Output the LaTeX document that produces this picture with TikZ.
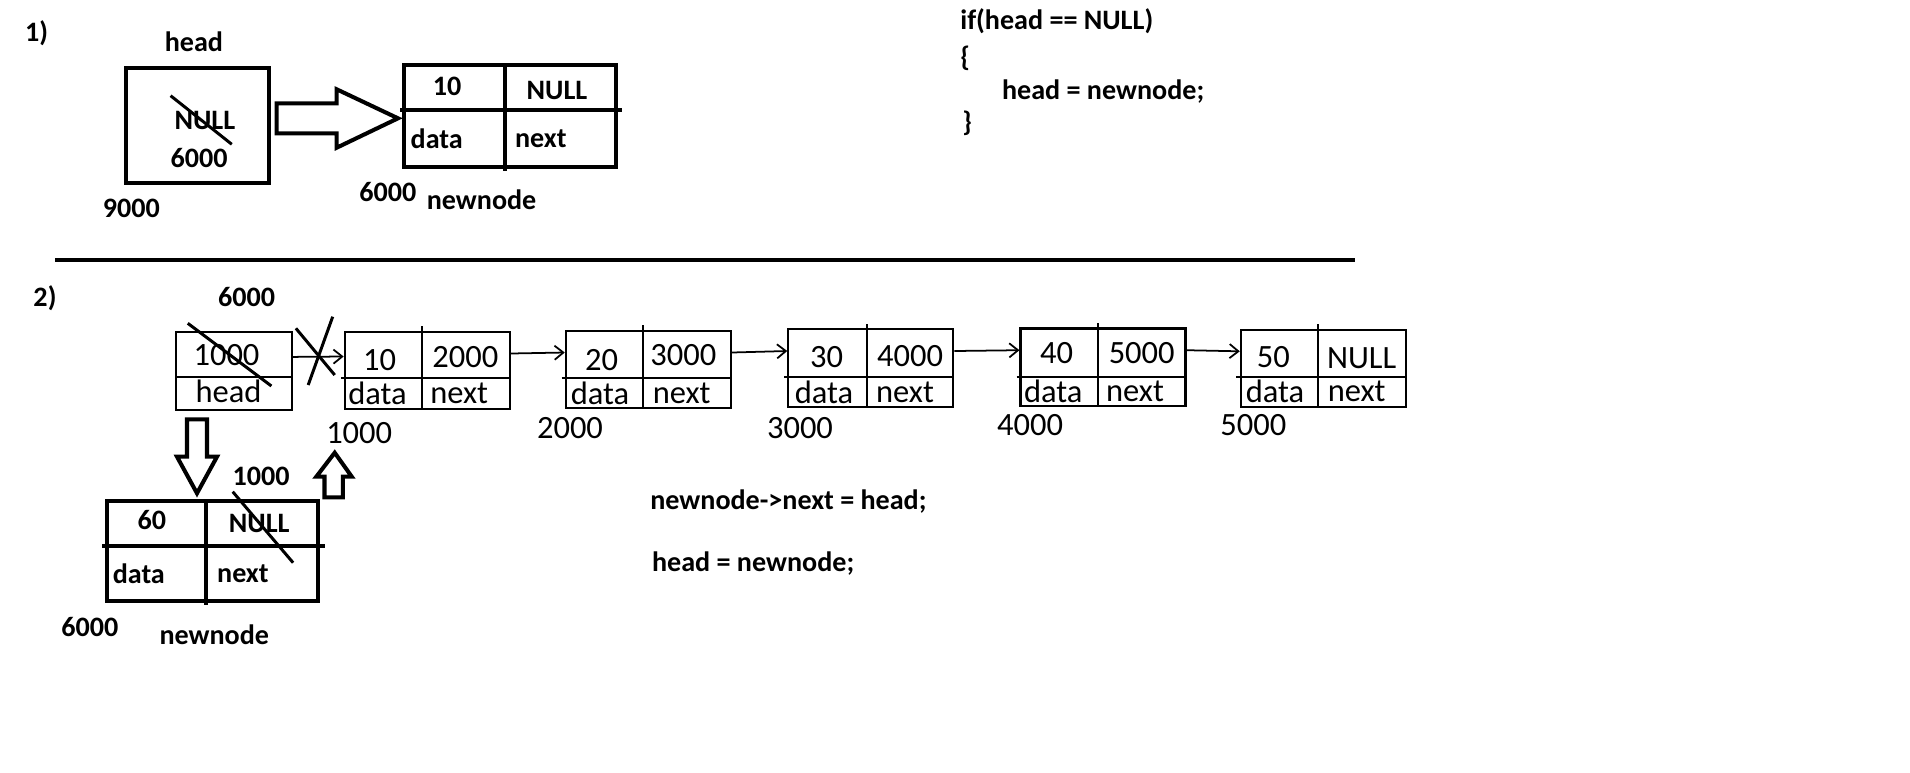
\documentclass[tikz,border=0pt]{standalone}
\usepackage{fontspec}
\setmainfont{Carlito}
\usetikzlibrary{arrows.meta}

\tikzset{
    lbl/.style={inner sep=0pt, font=\fontsize{16}{19}\selectfont\bfseries},
    lst/.style={inner sep=0pt, font=\fontsize{18.5}{21}\selectfont},
    fat/.style={line width=2.3pt},
    cross/.style={line width=1.7pt},
    thinline/.style={line width=1.2pt},
    bigcell/.style={draw, fat, inner sep=0pt},
    cell/.style={draw, thinline, inner sep=0pt, minimum width=3.3cm, minimum height=1.55cm},
    link/.style={line width=1pt, -{Straight Barb[length=5pt,width=8pt]}},
}

\begin{document}
\begin{tikzpicture}[x=0.02cm, y=-0.02cm]
                \useasboundingbox (0,0) rectangle (1910,772);

                \node[lbl] (One) at (36.7,33.3) {1)};
                \node[lbl] (HeadName) at (193.9,41.7) {head};
                \node[bigcell, minimum width=2.874cm, minimum height=2.3cm] (HeadBox) at (197.5,125.8) {};
                \node[lbl] (HeadNull) at (204.9,120) {NULL};
                \node[lbl] (HeadVal) at (199.2,158.3) {6000};
                \node[lbl] (HeadAddr) at (131.4,208.3) {9000};
                \draw[cross] (170.6,95.7) -- (231.8,144.3);

                \draw[fat] (276.7,103.3) -- (336.7,103.3) -- (336.7,89.3) -- (398,118.3)
                    -- (336.7,147.7) -- (336.7,133.3) -- (276.7,133.3) -- cycle;

                \node[bigcell, minimum width=4.23cm, minimum height=2.034cm] (NewBox) at (509.8,115.8) {};
                \draw[fat] (400,110) -- (622.4,110);
                \draw[fat] (505.3,65) -- (505.3,170.7);
                \node[lbl] (NewData) at (447,86.7) {10};
                \node[lbl] (NewNext) at (557,90) {NULL};
                \node[lbl] (NewD) at (436.7,138.3) {data};
                \node[lbl] (NewN) at (540.8,138.3) {next};
                \node[lbl] (NewAddr) at (387.8,191.7) {6000};
                \node[lbl] (NewName) at (481.6,200) {newnode};

                \node[lbl, anchor=west] (Code1) at (960,21) {if(head == NULL)};
                \node[lbl, anchor=west] (Code2) at (960,58) {\{};
                \node[lbl, anchor=west] (Code3) at (1001.7,91.7) {head = newnode;};
                \node[lbl, anchor=west] (Code4) at (962,123) {\}};

                \draw[fat] (55,260) -- (1355,260);

                \node[lbl] (Two) at (45,298.3) {2)};
                \node[lbl] (HeadVal2) at (246.7,296.7) {6000};
                \node[cell, minimum width=2.326cm, minimum height=1.566cm] (HeadBox2) at (233.7,370.9) {};
                \draw[thinline] (175.5,376.7) -- (291.8,376.7);
                \node[lst] (HeadPtr2) at (226.5,355) {1000};
                \node[lst] (HeadName2) at (228.6,391.7) {head};
                \draw[cross] (187.8,323.3) -- (271.4,386);

                \node[cell] (L1) at (427.2,370.5) {};
                \node[cell] (L2) at (648.3,369.5) {};
                \node[cell] (L3) at (870.8,368) {};
                \node[cell] (L4) at (1103,367.2) {};
                \node[cell] (L5) at (1323.3,368.3) {};

                \draw[thinline] (341,378.3) -- (509.4,378.3);
                \draw[thinline] (422.4,326) -- (422.4,409.3);
                \draw[thinline] (561.7,378.3) -- (731.7,378.3);
                \draw[thinline] (643.3,325) -- (643.3,408.3);
                \draw[thinline] (784,376.7) -- (953.3,376.7);
                \draw[thinline] (866.7,324) -- (866.7,406.7);
                \draw[thinline] (1016.7,376.7) -- (1186,376.7);
                \draw[thinline] (1098.3,323) -- (1098.3,406);
                \draw[thinline] (1236,376.7) -- (1406.7,376.7);
                \draw[thinline] (1318.3,324) -- (1318.3,407.3);

                \node[lst] (V1) at (379.6,360) {10};
                \node[lst] (P1) at (465.3,356.7) {2000};
                \node[lst] (D1) at (377.6,393.3) {data};
                \node[lst] (N1) at (459.2,393.3) {next};
                \node[lst] (A1) at (359.2,433.3) {1000};

                \node[lst] (V2) at (601.7,360) {20};
                \node[lst] (P2) at (683.3,355) {3000};
                \node[lst] (D2) at (600,393.3) {data};
                \node[lst] (N2) at (681.7,393.3) {next};
                \node[lst] (A2) at (570,428.3) {2000};

                \node[lst] (V3) at (826.7,356.7) {30};
                \node[lst] (P3) at (910,356) {4000};
                \node[lst] (D3) at (824,392) {data};
                \node[lst] (N3) at (905,392) {next};
                \node[lst] (A3) at (800,428.3) {3000};

                \node[lst] (V4) at (1056.7,353.3) {40};
                \node[lst] (P4) at (1141.7,353.3) {5000};
                \node[lst] (D4) at (1053.3,391.7) {data};
                \node[lst] (N4) at (1135,391.7) {next};
                \node[lst] (A4) at (1030,425) {4000};

                \node[lst] (V5) at (1273.3,356.7) {50};
                \node[lst] (P5) at (1361.7,358.3) {NULL};
                \node[lst] (D5) at (1275,391.7) {data};
                \node[lst] (N5) at (1356.7,391.7) {next};
                \node[lst] (A5) at (1253.3,425) {5000};

                \draw[link] ([yshift=0.28cm]HeadBox2.east) -- ([yshift=0.28cm]L1.west);
                \draw[link] ([yshift=0.34cm]L1.east) -- ([yshift=0.34cm]L2.west);
                \draw[link] ([yshift=0.34cm]L2.east) -- ([yshift=0.34cm]L3.west);
                \draw[link] ([yshift=0.34cm]L3.east) -- ([yshift=0.34cm]L4.west);
                \draw[link] ([yshift=0.34cm]L4.east) -- ([yshift=0.34cm]L5.west);

                \draw[cross] (295.9,328.3) -- (334.7,375);
                \draw[cross] (332.7,316.7) -- (308.2,385);

                \draw[fat] (187,419.3) -- (207,419.3) -- (207,456.7) -- (217,456.7) -- (197,493.3)
                    -- (177,456.7) -- (187,456.7) -- cycle;
                \draw[fat] (324.5,497.3) -- (342.9,497.3) -- (342.9,476.7) -- (351.8,476.7)
                    -- (334.7,452.7) -- (316.3,476.7) -- (324.5,476.7) -- cycle;

                \node[bigcell, minimum width=4.212cm, minimum height=2cm] (NewBox2) at (212.3,550.7) {};
                \draw[fat] (102,545.7) -- (324.5,545.7);
                \draw[fat] (206.1,500.7) -- (206.1,605);
                \node[lbl] (NewData2) at (151.8,520) {60};
                \node[lbl] (NewNext2) at (259.2,523.3) {NULL};
                \node[lbl] (NewD2) at (138.8,573.3) {data};
                \node[lbl] (NewN2) at (242.9,573.3) {next};
                \node[lbl] (NewPtr2) at (261.2,476.7) {1000};
                \node[lbl] (NewAddr2) at (89.8,626.7) {6000};
                \node[lbl] (NewName2) at (214.3,635) {newnode};
                \draw[cross] (232.7,491.7) -- (293.1,562.7);

                \node[lbl, anchor=west] (Code5) at (650,501.7) {newnode->next = head;};
                \node[lbl, anchor=west] (Code6) at (651.7,563.3) {head = newnode;};
            \end{tikzpicture}
\end{document}
